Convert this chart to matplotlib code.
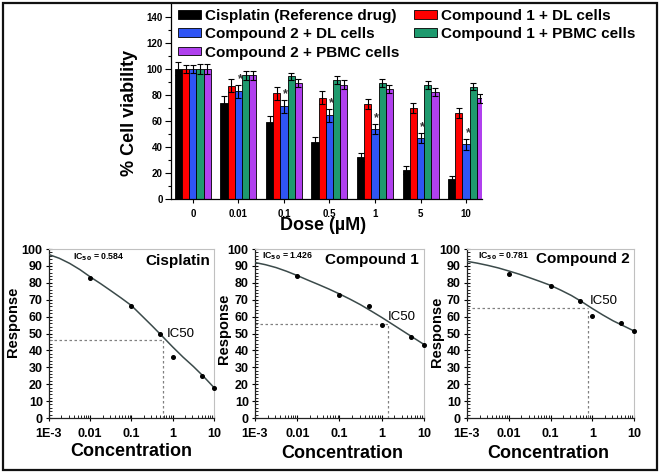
import matplotlib
matplotlib.use('Agg')
import matplotlib.pyplot as plt
import numpy as np
from matplotlib.ticker import MultipleLocator, FixedLocator, LogLocator, NullFormatter
from matplotlib.patches import Rectangle

plt.rcParams['font.family'] = ['Liberation Sans', 'DejaVu Sans']
plt.rcParams['font.weight'] = 'bold'

# ---------------- data: bar chart ----------------
doses = ['0', '0.01', '0.1', '0.5', '1', '5', '10']
series_names = ['Cisplatin (Reference drug)', 'Compound 1 + DL cells',
                'Compound 2 + DL cells', 'Compound 1 + PBMC cells',
                'Compound 2 + PBMC cells']
cisplatin_viab = [100, 74, 59, 44, 32, 22, 15]
c1_dl_viab = [100, 87, 81.5, 78, 73, 70, 66]
c2_dl_viab = [100, 83, 71.5, 64.5, 54, 47, 42]
c1_pbmc_viab = [100, 95, 94.5, 91.5, 89.5, 87.5, 86.5]
c2_pbmc_viab = [100, 95, 89.5, 88, 84.5, 82, 77.5]
cisplatin_err = [5, 5, 5, 4, 3, 3, 3]
c1_dl_err = [3, 5, 5, 5, 4, 4, 4]
c2_dl_err = [3, 5, 5, 5, 4, 4, 4]
c1_pbmc_err = [4, 3.5, 2.6, 3.4, 3, 3, 3]
c2_pbmc_err = [4, 3.5, 3, 3.3, 3, 3, 3.5]
star_groups = [1, 2, 3, 4, 5, 6]

# ---------------- data: dose-response panels ----------------
panel_titles = ['Cisplatin', 'Compound 1', 'Compound 2']
ic50_values = [0.584, 1.426, 0.781]
ic50_responses = [46, 55.7, 65.3]
point_conc = [0.01, 0.1, 0.5, 1, 5, 10]
cis_points = [82.7, 66.1, 49.6, 36.3, 25.1, 17.5]
c1_points = [83.9, 73.0, 66.0, 55.0, 47.9, 43.1]
c2_points = [85.4, 78.1, 69.2, 60.4, 56.2, 51.5]
curve_conc = [0.001, 0.00178, 0.00316, 0.00562, 0.01, 0.0178, 0.0316, 0.0562,
              0.1, 0.178, 0.316, 0.562, 1, 1.78, 3.16, 5.62, 10]
cis_curve = [96.7, 94.5, 91.5, 87.8, 83.5, 79.5, 75.3, 71.0, 66.5, 60.5, 54.5,
             48.3, 42.0, 36.0, 30.5, 24.5, 18.0]
c1_curve = [92.0, 90.7, 89.0, 86.8, 84.3, 81.6, 79.0, 76.3, 73.4, 70.3, 67.0,
            63.3, 59.5, 55.5, 51.5, 47.5, 43.5]
c2_curve = [92.7, 91.6, 90.3, 88.8, 87.0, 85.1, 83.0, 80.8, 78.5, 75.6, 72.5,
            68.8, 64.8, 61.0, 57.5, 54.5, 51.5]
xtick_vals = [0.001, 0.01, 0.1, 1, 10]
xtick_labels = ['1E-3', '0.01', '0.1', '1', '10']

W, H = 659, 473
fig = plt.figure(figsize=(W / 100, H / 100), dpi=100)

def fx(px):
    return px / W

def fy(py):
    return 1 - py / H

# ---------------- bar chart ----------------
axb = fig.add_axes([fx(171), fy(199), fx(482 - 171), (199 - 4) / H])
colors = ['#000000', '#FF0000', '#2F55F5', '#1E9A6E', '#B040EE']
vals = [cisplatin_viab, c1_dl_viab, c2_dl_viab, c1_pbmc_viab, c2_pbmc_viab]
errs = [cisplatin_err, c1_dl_err, c2_dl_err, c1_pbmc_err, c2_pbmc_err]
x = np.arange(len(doses))
bw = 0.158
for i, (v, e, c) in enumerate(zip(vals, errs, colors)):
    xs = x + (i - 2) * bw
    axb.bar(xs, v, width=bw, color=c, edgecolor='black', linewidth=0.6,
            label=series_names[i], zorder=2)
    axb.errorbar(xs, v, yerr=e, fmt='none', ecolor='black', elinewidth=0.8,
                 capsize=2, capthick=0.8, zorder=3)
for g in star_groups:
    axb.text(x[g] + 0.04, c2_dl_viab[g] + c2_dl_err[g] + 4.5, '*',
             ha='center', va='center', fontsize=9, color='#333333')

axb.set_xlim(-0.48, 6.35)
axb.set_ylim(0, 150)
axb.set_xticks(x)
axb.set_xticklabels(doses, fontsize=7, fontweight='bold')
axb.yaxis.set_major_locator(FixedLocator([0, 20, 40, 60, 80, 100, 120, 140]))
axb.yaxis.set_minor_locator(FixedLocator(list(range(10, 150, 20))))
axb.tick_params(axis='y', which='major', length=4, width=0.8, labelsize=7, pad=2)
axb.tick_params(axis='y', which='minor', length=2, width=0.8)
axb.tick_params(axis='x', which='major', length=3, width=0.8, pad=4)
for lab in axb.get_yticklabels():
    lab.set_fontweight('bold')
axb.spines['top'].set_visible(False)
axb.spines['right'].set_visible(False)
axb.spines['left'].set_linewidth(0.9)
axb.spines['bottom'].set_linewidth(0.9)
yl = axb.set_ylabel('% Cell viability', fontsize=13, fontweight='bold')
yl.set_va('center')
axb.yaxis.set_label_coords((130 - 171) / 311, 0.44)
xl = axb.set_xlabel('Dose (µM)', fontsize=13, fontweight='bold')
xl.set_va('center')
axb.xaxis.set_label_coords(0.49, (199 - 226) / 195)

handles, labels = axb.get_legend_handles_labels()
order = [0, 2, 4, 1, 3]
leg = axb.legend([handles[k] for k in order], [labels[k] for k in order],
                 ncol=2, loc='upper left',
                 bbox_to_anchor=(fx(178), fy(9)), bbox_transform=fig.transFigure,
                 frameon=False, prop={'weight': 'bold', 'size': 11},
                 handlelength=1.5, handleheight=0.5, handletextpad=0.3,
                 columnspacing=0.9, labelspacing=0.28, borderpad=0,
                 borderaxespad=0)

# ---------------- dose-response panels ----------------
panel_boxes = [(49, 214), (255, 424), (467, 634)]
curves = [cis_curve, c1_curve, c2_curve]
points = [cis_points, c1_points, c2_points]
ic50_txt_pos = [(0.72, 50), (1.38, 59.8), (0.87, 69)]
title_pos = [(0.976, 0.93), (0.97, 0.936), (0.976, 0.94)]
icv_pos = [(0.144, 0.949), (0.041, 0.96), (0.066, 0.96)]
ylab_x = [12.7, 224, 437]
ylab_y = [0.57, 0.53, 0.51]
xlab_pos = [(0.497, (418 - 452) / 170), (0.515, (418 - 454) / 170),
            (0.485, (418 - 454) / 170)]

for k in range(3):
    x0, x1 = panel_boxes[k]
    ax = fig.add_axes([fx(x0), fy(418), fx(x1 - x0), (418 - 249) / H])
    ax.set_xscale('log')
    ax.set_xlim(1e-3, 10)
    ax.set_ylim(0, 100)
    ax.plot(curve_conc, curves[k], color='#3B4A4A', lw=1.1, zorder=3)
    ax.plot(point_conc, points[k], 'o', color='black', ms=2.6, zorder=4,
            clip_on=False)
    ic = ic50_values[k]
    r = ic50_responses[k]
    ax.plot([1e-3, ic], [r, r], color='#808080', lw=0.9, ls=(0, (2, 2)), zorder=2)
    ax.plot([ic, ic], [0, r], color='#808080', lw=0.9, ls=(0, (2, 2)), zorder=2)
    ax.text(ic50_txt_pos[k][0], ic50_txt_pos[k][1], 'IC50', fontsize=9.5,
            fontweight='normal', ha='left', va='center')
    ax.text(title_pos[k][0], title_pos[k][1], panel_titles[k], fontsize=11,
            fontweight='bold', ha='right', va='center', transform=ax.transAxes)
    ax.text(icv_pos[k][0], icv_pos[k][1],
            r'IC$_{\mathbf{50}}$ = ' + '{:.3f}'.format(ic), fontsize=6.3,
            fontweight='bold', ha='left', va='center', transform=ax.transAxes)
    ax.set_xticks(xtick_vals)
    ax.set_xticklabels(xtick_labels)
    ax.xaxis.set_minor_locator(LogLocator(base=10, subs=np.arange(2, 10)))
    ax.xaxis.set_minor_formatter(NullFormatter())
    ax.yaxis.set_major_locator(MultipleLocator(10))
    ax.yaxis.set_minor_locator(MultipleLocator(2))
    ax.tick_params(axis='both', which='major', direction='inout', length=5,
                   width=0.8, labelsize=9)
    ax.tick_params(axis='both', which='minor', direction='in', length=2.5,
                   width=0.6)
    ax.tick_params(axis='x', which='major', pad=5)
    ax.tick_params(axis='y', which='major', pad=2)
    for lab in ax.get_xticklabels() + ax.get_yticklabels():
        lab.set_fontweight('bold')
    for s in ['top', 'right']:
        ax.spines[s].set_color('#C0C0C0')
        ax.spines[s].set_linewidth(0.8)
    for s in ['left', 'bottom']:
        ax.spines[s].set_color('#222222')
        ax.spines[s].set_linewidth(0.9)
    yl2 = ax.set_ylabel('Response', fontsize=10.5, fontweight='bold')
    yl2.set_va('center')
    ax.yaxis.set_label_coords((ylab_x[k] - x0) / (x1 - x0), ylab_y[k])
    xlb = ax.set_xlabel('Concentration', fontsize=13, fontweight='bold')
    xlb.set_va('center')
    ax.xaxis.set_label_coords(*xlab_pos[k])

# outer border
fig.patches.append(Rectangle((fx(3), fy(470)), fx(654), 467 / H,
                             transform=fig.transFigure, fill=False,
                             edgecolor='#111111', linewidth=1.6))

fig.savefig('out.png', dpi=100)
